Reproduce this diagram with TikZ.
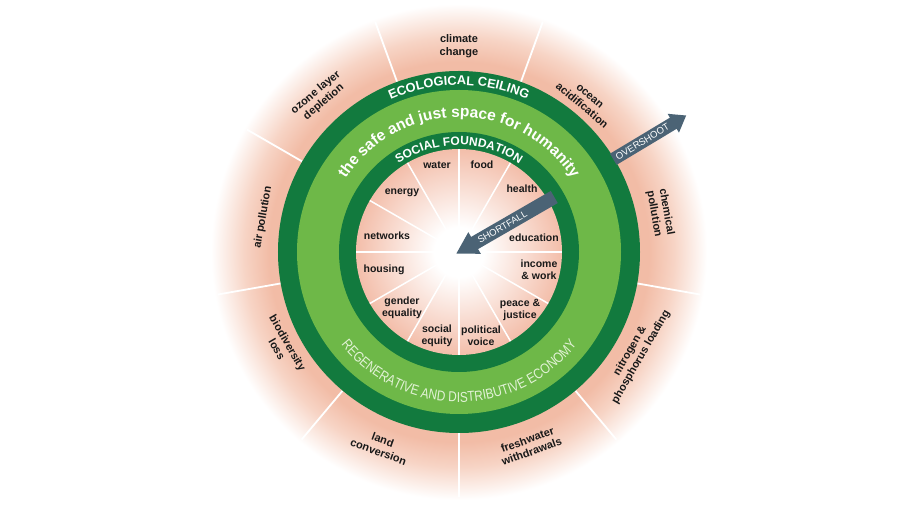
\documentclass[tikz,border=0pt]{standalone}
\usepackage{fontspec}
\setmainfont{Liberation Sans}
\newfontfamily\condsans[FakeStretch=0.83]{Liberation Sans}
\usetikzlibrary{decorations.text}
\definecolor{dkgreen}{RGB}{18,122,62}
\definecolor{ltgreen}{RGB}{110,184,72}
\definecolor{arrowc}{RGB}{75,99,117}
\definecolor{pinkO}{RGB}{242,188,166}
\definecolor{pinkOm}{RGB}{247,212,197}
\definecolor{pinkI}{RGB}{243,190,170}
\definecolor{regentext}{RGB}{226,242,214}
\definecolor{labeltext}{RGB}{25,25,25}
\pgfdeclareradialshading{outerglow}{\pgfpoint{0bp}{0bp}}{color(0bp)=(pinkO); color(19bp)=(pinkO); color(21.5bp)=(pinkOm); color(24.8bp)=(white); color(50bp)=(white)}
\pgfdeclareradialshading{innerglow}{\pgfpoint{0bp}{0bp}}{color(0bp)=(white); color(6bp)=(white); color(25bp)=(pinkI); color(50bp)=(pinkI)}
\newcommand\labfont{\fontsize{11pt}{12.5pt}\selectfont\bfseries}
\newcommand\inlabfont{\fontsize{10.5pt}{12pt}\selectfont\bfseries}
\newcommand\ecofont{\fontsize{12.8pt}{13pt}\selectfont\bfseries}
\newcommand\safefont{\fontsize{15.5pt}{16pt}\selectfont\bfseries}
\newcommand\socfont{\fontsize{12pt}{12pt}\selectfont\bfseries}
\newcommand\regenfont{\condsans\fontsize{14.3pt}{14pt}\selectfont}
\newcommand\arrfont{\fontsize{9.5pt}{10pt}\selectfont}
\begin{document}
\begin{tikzpicture}[x=1pt,y=1pt,
  lab/.style={font=\labfont, text=labeltext, align=center, inner sep=0pt},
  inlab/.style={font=\inlabfont, text=labeltext, align=center, inner sep=0pt},
  seg/.style={white, line width=1.8pt},
  iseg/.style={white, line width=1.5pt},
  arrtext/.style={font=\arrfont, text=white, inner sep=0pt, transform shape}]
\fill[white] (-459,-266) rectangle (461,252);
\useasboundingbox (-459,-266) rectangle (461,252);
% outer glow and boundary separators
\shade[shading=outerglow] (0,0) circle[radius=250pt];
\foreach \a in {70,110,150,190,230,270,310,350} \draw[seg] (\a:181pt) -- (\a:245pt);
% rings
\fill[dkgreen] (0,0) circle[radius=181pt];
\fill[ltgreen] (0,0) circle[radius=162pt];
\fill[dkgreen] (0,0) circle[radius=120pt];
\shade[shading=innerglow] (0,0) circle[radius=103pt];
\foreach \a in {0,30,...,330} \draw[iseg] (0,0) -- (\a:103pt);
% ring texts
\path[decorate, decoration={text along path, text align=center, text color=white,
  text={|\ecofont|ECOLOGICAL CEILING}}]
  (170:167pt) arc[start angle=170, end angle=10, radius=167pt];
\path[decorate, decoration={text along path, text align=center, text color=white,
  text={|\safefont|the safe and just space for humanity}}]
  (175:135pt) arc[start angle=175, end angle=5, radius=135pt];
\path[decorate, decoration={text along path, text align=center, text color=white,
  text={|\socfont|SOCIAL FOUNDATION}}]
  (170:107pt) arc[start angle=170, end angle=10, radius=107pt];
\path[decorate, decoration={text along path, text align=center, text color=regentext,
  text={|\regenfont|REGENERATIVE AND DISTRIBUTIVE ECONOMY}}]
  (185:150pt) arc[start angle=185, end angle=355, radius=150pt];
% planetary boundaries
\node[lab] (climate) at (90:206pt) {climate\\change};
\node[lab, rotate=-40] (ocean) at (50:197pt) {ocean\\acidification};
\node[lab, rotate=-80] (chemical) at (11:205pt) {chemical\\pollution};
\node[lab, rotate=60] (nitrogen) at (-30:204pt) {nitrogen \&\\phosphorus loading};
\node[lab, rotate=20] (freshwater) at (-70:206pt) {freshwater\\withdrawals};
\node[lab, rotate=-20] (land) at (248:209pt) {land\\conversion};
\node[lab, rotate=-60] (biodiv) at (208:200pt) {biodiversity\\loss};
\node[lab, rotate=80] (air) at (170:199pt) {air pollution};
\node[lab, rotate=40] (ozone) at (132:208pt) {ozone layer\\depletion};
% social foundation dimensions
\node[inlab] (water) at (-22,87) {water};
\node[inlab] (food) at (23,87) {food};
\node[inlab] (energy) at (-57,59) {energy};
\node[inlab] (health) at (63,63) {health};
\node[inlab] (networks) at (-72,16) {networks};
\node[inlab] (education) at (75,14) {education};
\node[inlab] (housing) at (-75,-18) {housing};
\node[inlab] (income) at (80,-18) {income\\\& work};
\node[inlab] (gender) at (-57,-56) {gender\\equality};
\node[inlab] (peace) at (61,-58) {peace \&\\justice};
\node[inlab] (social) at (-22,-84) {social\\equity};
\node[inlab] (political) at (22,-84) {political\\voice};
% overshoot arrow
\begin{scope}[rotate=31]
\fill[arrowc] (180,-6.5) -- (250,-6.5) -- (250,-11) -- (265,0) -- (250,11) -- (250,6.5) -- (180,6.5) -- cycle;
\node[arrtext] (overshoot) at (214,0) {OVERSHOOT};
\end{scope}
% shortfall arrow
\begin{scope}[rotate=30]
\fill[arrowc] (110,-7) -- (18,-7) -- (18,-12.5) -- (-3,0) -- (18,12.5) -- (18,7) -- (110,7) -- cycle;
\node[arrtext] (shortfall) at (50,0) {SHORTFALL};
\end{scope}
\end{tikzpicture}
\end{document}
